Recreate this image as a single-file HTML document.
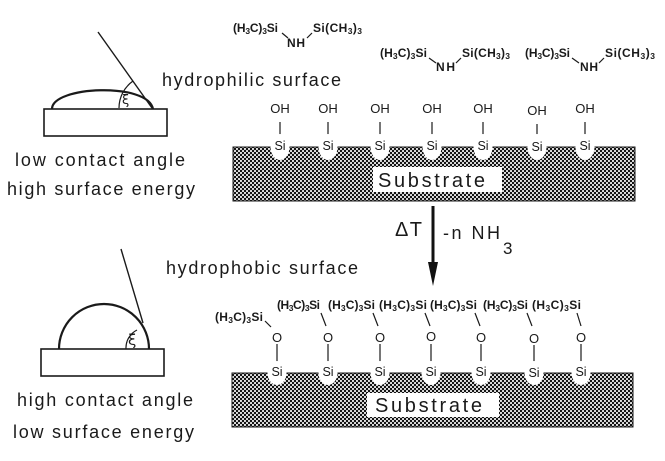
<!DOCTYPE html>
<html>
<head>
<meta charset="utf-8">
<style>
  html,body{margin:0;padding:0;background:#fff;}
  svg{display:block;}
  text{font-family:"Liberation Sans", sans-serif; fill:#1a1a1a;}
  .lbl{font-size:18px;}
  .chem{font-size:12px;font-weight:bold;}
  .sub{font-size:8.5px;}
  .atom{font-size:13px;}
  .si{font-size:12.5px;}
  .xi{font-family:"DejaVu Sans", sans-serif;}
</style>
</head>
<body>
<svg width="665" height="461" viewBox="0 0 665 461" xmlns="http://www.w3.org/2000/svg">
  <defs>
    <pattern id="hatch" width="4" height="4" patternUnits="userSpaceOnUse">
      <rect width="4" height="4" fill="#141414"/>
      <circle cx="1" cy="1" r="1.05" fill="#fff"/>
      <circle cx="3" cy="3" r="1.05" fill="#fff"/>
    </pattern>
  </defs>
  <rect width="665" height="461" fill="#fff"/>

  <!-- ===== Top-left drop (low contact angle) ===== -->
  <rect x="44" y="109" width="123" height="27" fill="none" stroke="#1a1a1a" stroke-width="1.6"/>
  <path d="M52,109 C52,86 148,82 153,109" fill="none" stroke="#1a1a1a" stroke-width="2.2"/>
  <line x1="98" y1="32" x2="152" y2="108" stroke="#1a1a1a" stroke-width="1.4"/>
  <path d="M133,81 A33,33 0 0 0 119,108" fill="none" stroke="#1a1a1a" stroke-width="1.2"/>
  <text class="xi" x="122" y="104" font-size="13">ξ</text>
  <text class="lbl" x="15" y="166" textLength="170" lengthAdjust="spacing">low contact angle</text>
  <text class="lbl" x="7" y="195" textLength="188" lengthAdjust="spacing">high surface energy</text>

  <!-- ===== Bottom-left drop (high contact angle) ===== -->
  <rect x="41" y="349" width="123" height="27" fill="none" stroke="#1a1a1a" stroke-width="1.6"/>
  <path d="M59,349 A45,45 0 0 1 149,349" fill="none" stroke="#1a1a1a" stroke-width="2.2"/>
  <line x1="121" y1="249" x2="143" y2="323" stroke="#1a1a1a" stroke-width="1.4"/>
  <path d="M137,330 A20,20 0 0 0 126,349" fill="none" stroke="#1a1a1a" stroke-width="1.2"/>
  <text class="xi" x="128" y="345" font-size="15">ξ</text>
  <text class="lbl" x="17" y="406" textLength="176" lengthAdjust="spacing">high contact angle</text>
  <text class="lbl" x="13" y="438" textLength="181" lengthAdjust="spacing">low surface energy</text>

  <!-- surface labels -->
  <text class="lbl" x="162" y="86" textLength="179" lengthAdjust="spacing">hydrophilic surface</text>
  <text class="lbl" x="166" y="274" textLength="192" lengthAdjust="spacing">hydrophobic surface</text>

  <!-- ===== HMDS molecules (top) ===== -->
  <text class="chem" x="233" y="32" textLength="45">(H<tspan class="sub" dy="2">3</tspan><tspan dy="-2">C)</tspan><tspan class="sub" dy="2">3</tspan><tspan dy="-2">Si</tspan></text>
  <line x1="282" y1="33" x2="288" y2="38" stroke="#1a1a1a" stroke-width="1.2"/>
  <text class="chem" x="287" y="47" textLength="18">NH</text>
  <line x1="307" y1="38" x2="312" y2="33" stroke="#1a1a1a" stroke-width="1.2"/>
  <text class="chem" x="313" y="32" textLength="49">Si(CH<tspan class="sub" dy="2">3</tspan><tspan dy="-2">)</tspan><tspan class="sub" dy="2">3</tspan></text>

  <text class="chem" x="380" y="57" textLength="47">(H<tspan class="sub" dy="2">3</tspan><tspan dy="-2">C)</tspan><tspan class="sub" dy="2">3</tspan><tspan dy="-2">Si</tspan></text>
  <line x1="429" y1="58" x2="436" y2="63" stroke="#1a1a1a" stroke-width="1.2"/>
  <text class="chem" x="436" y="71" textLength="19">NH</text>
  <line x1="456" y1="63" x2="461" y2="58" stroke="#1a1a1a" stroke-width="1.2"/>
  <text class="chem" x="462" y="57" textLength="48">Si(CH<tspan class="sub" dy="2">3</tspan><tspan dy="-2">)</tspan><tspan class="sub" dy="2">3</tspan></text>

  <text class="chem" x="525" y="57" textLength="45">(H<tspan class="sub" dy="2">3</tspan><tspan dy="-2">C)</tspan><tspan class="sub" dy="2">3</tspan><tspan dy="-2">Si</tspan></text>
  <line x1="572" y1="58" x2="579" y2="63" stroke="#1a1a1a" stroke-width="1.2"/>
  <text class="chem" x="580" y="71" textLength="18">NH</text>
  <line x1="599" y1="63" x2="604" y2="58" stroke="#1a1a1a" stroke-width="1.2"/>
  <text class="chem" x="605" y="57" textLength="50">Si(CH<tspan class="sub" dy="2">3</tspan><tspan dy="-2">)</tspan><tspan class="sub" dy="2">3</tspan></text>

  <!-- ===== Top substrate (hydrophilic) ===== -->
  <rect x="233" y="147" width="402" height="54" fill="url(#hatch)" stroke="#1a1a1a" stroke-width="1"/>
  <rect x="373" y="167" width="129" height="25" fill="#fff"/>
  <text x="378" y="187" font-size="20" textLength="107" lengthAdjust="spacing">Substrate</text>
  <g stroke="#1a1a1a" stroke-width="1.2">
    <line x1="280" y1="122" x2="280" y2="135"/>
    <line x1="328" y1="122" x2="328" y2="135"/>
    <line x1="380" y1="122" x2="380" y2="135"/>
    <line x1="432" y1="122" x2="432" y2="135"/>
    <line x1="483" y1="122" x2="483" y2="135"/>
    <line x1="537" y1="124" x2="537" y2="136"/>
    <line x1="585" y1="122" x2="585" y2="135"/>
  </g>
  <g fill="#fff">
    <ellipse cx="280" cy="147" rx="9.5" ry="13"/>
    <ellipse cx="328" cy="147" rx="9.5" ry="13"/>
    <ellipse cx="380" cy="147" rx="9.5" ry="13"/>
    <ellipse cx="432" cy="147" rx="9.5" ry="13"/>
    <ellipse cx="483" cy="147" rx="9.5" ry="13"/>
    <ellipse cx="537" cy="147" rx="9.5" ry="13"/>
    <ellipse cx="585" cy="147" rx="9.5" ry="13"/>
  </g>
  <g text-anchor="middle">
    <text x="280" y="113" class="atom">OH</text>
    <text x="328" y="113" class="atom">OH</text>
    <text x="380" y="113" class="atom">OH</text>
    <text x="432" y="113" class="atom">OH</text>
    <text x="483" y="113" class="atom">OH</text>
    <text x="537" y="115" class="atom">OH</text>
    <text x="585" y="113" class="atom">OH</text>
  </g>
  <g text-anchor="middle">
    <text x="280" y="150" class="si">Si</text>
    <text x="328" y="150" class="si">Si</text>
    <text x="380" y="150" class="si">Si</text>
    <text x="432" y="150" class="si">Si</text>
    <text x="483" y="150" class="si">Si</text>
    <text x="537" y="151" class="si">Si</text>
    <text x="585" y="150" class="si">Si</text>
  </g>

  <!-- ===== Arrow ===== -->
  <line x1="433" y1="206" x2="433" y2="266" stroke="#111" stroke-width="3"/>
  <polygon points="428,262 438,262 433,286" fill="#111"/>
  <text x="395" y="236" font-size="20" textLength="27" lengthAdjust="spacing">ΔT</text>
  <text x="443" y="239" font-size="18" textLength="57" lengthAdjust="spacing">-n NH</text>
  <text x="503" y="254" font-size="17">3</text>

  <!-- ===== Bottom substrate (hydrophobic) ===== -->
  <rect x="232" y="373" width="401" height="54" fill="url(#hatch)" stroke="#1a1a1a" stroke-width="1"/>
  <rect x="367" y="393" width="132" height="24" fill="#fff"/>
  <text x="375" y="412" font-size="20" textLength="107" lengthAdjust="spacing">Substrate</text>

  <g stroke="#1a1a1a" stroke-width="1.2">
    <line x1="265" y1="321" x2="271" y2="327"/>
    <line x1="321" y1="313" x2="326" y2="326"/>
    <line x1="373" y1="313" x2="378" y2="326"/>
    <line x1="425" y1="313" x2="430" y2="326"/>
    <line x1="475" y1="313" x2="480" y2="326"/>
    <line x1="527" y1="313" x2="532" y2="326"/>
    <line x1="577" y1="313" x2="581" y2="326"/>
    <line x1="277" y1="344" x2="277" y2="362"/>
    <line x1="328" y1="344" x2="328" y2="362"/>
    <line x1="380" y1="344" x2="380" y2="362"/>
    <line x1="431" y1="344" x2="431" y2="362"/>
    <line x1="481" y1="344" x2="481" y2="362"/>
    <line x1="534" y1="345" x2="534" y2="363"/>
    <line x1="581" y1="344" x2="581" y2="362"/>
  </g>
  <g fill="#fff">
    <ellipse cx="277" cy="373" rx="9.5" ry="12"/>
    <ellipse cx="328" cy="373" rx="9.5" ry="12"/>
    <ellipse cx="380" cy="373" rx="9.5" ry="12"/>
    <ellipse cx="431" cy="373" rx="9.5" ry="12"/>
    <ellipse cx="481" cy="373" rx="9.5" ry="12"/>
    <ellipse cx="534" cy="373" rx="9.5" ry="12"/>
    <ellipse cx="581" cy="373" rx="9.5" ry="12"/>
  </g>
  <g text-anchor="middle">
    <text x="277" y="342" class="atom">O</text>
    <text x="328" y="342" class="atom">O</text>
    <text x="380" y="342" class="atom">O</text>
    <text x="431" y="341" class="atom">O</text>
    <text x="481" y="342" class="atom">O</text>
    <text x="534" y="343" class="atom">O</text>
    <text x="581" y="342" class="atom">O</text>
    <text x="277" y="376" class="si">Si</text>
    <text x="328" y="376" class="si">Si</text>
    <text x="380" y="376" class="si">Si</text>
    <text x="431" y="376" class="si">Si</text>
    <text x="481" y="376" class="si">Si</text>
    <text x="534" y="377" class="si">Si</text>
    <text x="581" y="376" class="si">Si</text>
  </g>

  <text class="chem" x="215" y="321" textLength="48">(H<tspan class="sub" dy="2">3</tspan><tspan dy="-2">C)</tspan><tspan class="sub" dy="2">3</tspan><tspan dy="-2">Si</tspan></text>
  <text class="chem" x="277" y="309" textLength="43">(H<tspan class="sub" dy="2">3</tspan><tspan dy="-2">C)</tspan><tspan class="sub" dy="2">3</tspan><tspan dy="-2">Si</tspan></text>
  <text class="chem" x="328" y="309" textLength="47">(H<tspan class="sub" dy="2">3</tspan><tspan dy="-2">C)</tspan><tspan class="sub" dy="2">3</tspan><tspan dy="-2">Si</tspan></text>
  <text class="chem" x="379" y="309" textLength="48">(H<tspan class="sub" dy="2">3</tspan><tspan dy="-2">C)</tspan><tspan class="sub" dy="2">3</tspan><tspan dy="-2">Si</tspan></text>
  <text class="chem" x="430" y="309" textLength="47">(H<tspan class="sub" dy="2">3</tspan><tspan dy="-2">C)</tspan><tspan class="sub" dy="2">3</tspan><tspan dy="-2">Si</tspan></text>
  <text class="chem" x="483" y="309" textLength="45">(H<tspan class="sub" dy="2">3</tspan><tspan dy="-2">C)</tspan><tspan class="sub" dy="2">3</tspan><tspan dy="-2">Si</tspan></text>
  <text class="chem" x="532" y="309" textLength="49">(H<tspan class="sub" dy="2">3</tspan><tspan dy="-2">C)</tspan><tspan class="sub" dy="2">3</tspan><tspan dy="-2">Si</tspan></text>
</svg>
</body>
</html>
